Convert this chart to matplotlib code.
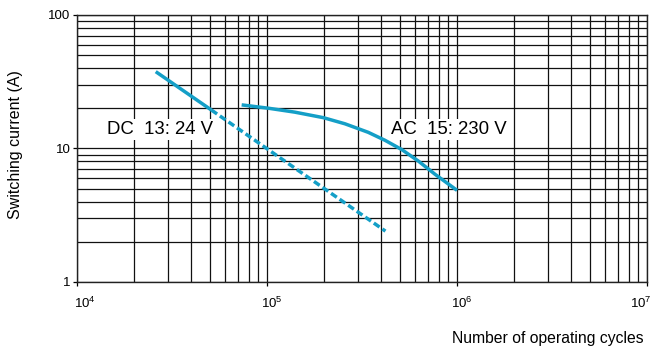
import numpy as np
import matplotlib
matplotlib.use("Agg")
from matplotlib import pyplot as plt
from matplotlib import transforms

plt.rcParams['font.family'] = ['Liberation Sans', 'DejaVu Sans']
plt.rcParams['mathtext.fontset'] = 'custom'
plt.rcParams['mathtext.rm'] = 'Liberation Sans'
plt.rcParams['mathtext.it'] = 'Liberation Sans'

# DC 13: 24 V curve (solid part, then dashed extrapolation)
dc_solid_cycles = [2.6e4, 5.1e4]
dc_solid_current = [37.6, 19.4]
dc_dash_cycles = [5.1e4, 4.2e5]
dc_dash_current = [19.4, 2.4]

# AC 15: 230 V curve
ac_cycles = [7.36e4, 1.02e5, 1.40e5, 1.98e5, 2.57e5, 3.41e5, 4.18e5, 5.12e5, 6.25e5, 7.66e5, 1.0e6]
ac_current = [21.2, 20.0, 18.7, 17.0, 15.3, 13.2, 11.5, 9.8, 8.05, 6.4, 4.85]

x_ticks = [1e4, 1e5, 1e6, 1e7]
x_labels = ['$10^{4}$', '$10^{5}$', '$10^{6}$', '$10^{7}$']
y_ticks = [1, 10, 100]
y_labels = ['1', '10', '100']

line_color = '#149fc7'

fig = plt.figure(figsize=(6.57, 3.48), dpi=100)
ax = fig.add_axes([0.117, 0.190, 0.868, 0.767])

ax.set_xscale('log')
ax.set_yscale('log')
ax.set_xlim(1e4, 1e7)
ax.set_ylim(1, 100)

# grid on every major and minor step
ax.grid(True, which='both', color='#111111', linewidth=0.9)
ax.set_axisbelow(True)
for s in ax.spines.values():
    s.set_color('#222222')
    s.set_linewidth(1.0)

ax.set_xticks(x_ticks)
ax.set_xticklabels(x_labels, fontsize=9.5)
ax.set_yticks(y_ticks)
ax.set_yticklabels(y_labels, fontsize=9.5)
ax.tick_params(which='major', direction='out', length=3, width=0.9, pad=7, axis='x')
ax.tick_params(which='major', direction='out', length=3, width=0.9, pad=1.5, axis='y')
ax.tick_params(which='minor', length=0)

# shift x tick labels like the reference (last one pulled inside)
labs = ax.get_xticklabels()
shifts = [8, 5, 5, -6]
for lab, dx in zip(labs, shifts):
    off = transforms.ScaledTranslation(dx / 100, 0, fig.dpi_scale_trans)
    lab.set_transform(lab.get_transform() + off)

ax.plot(dc_solid_cycles, dc_solid_current, color=line_color, lw=2.5, solid_capstyle='butt')
ax.plot(dc_dash_cycles, dc_dash_current, color=line_color, lw=2.5, dashes=(2.0, 1.0))
ax.plot(ac_cycles, ac_current, color=line_color, lw=2.5, solid_capstyle='butt',
        solid_joinstyle='round')

box = dict(facecolor='white', edgecolor='none', pad=1.5)
ax.text(1.44e4, 13.8, 'DC  13: 24 V', fontsize=13.4, va='center', ha='left', bbox=box)
ax.text(4.5e5, 13.8, 'AC  15: 230 V', fontsize=13.4, va='center', ha='left', bbox=box)

fig.text(0.023, 0.585, 'Switching current (A)', rotation=90, fontsize=11.5, va='center', ha='center')
fig.text(0.979, 0.028, 'Number of operating cycles', fontsize=11.3, va='center', ha='right')

fig.savefig('out.png', dpi=100)
